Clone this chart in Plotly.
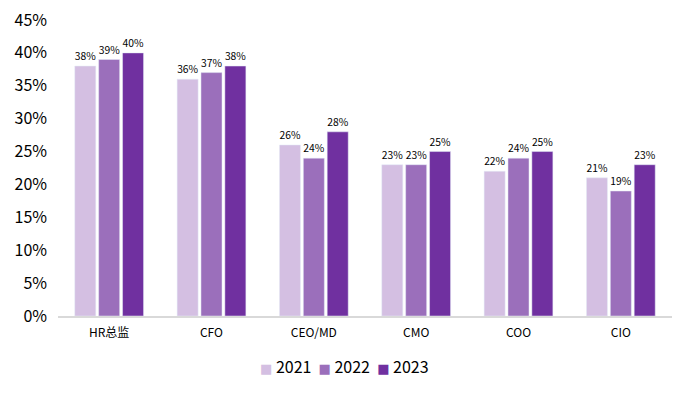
import plotly.graph_objects as go

categories = ["HR总监", "CFO", "CEO/MD", "CMO", "COO", "CIO"]
years = ["2021", "2022", "2023"]
v2021 = [38, 36, 26, 23, 22, 21]
v2022 = [39, 37, 24, 23, 24, 19]
v2023 = [40, 38, 28, 25, 25, 23]
colors = ["#D4BFE2", "#9B6FBB", "#7030A0"]
tick_vals = [0, 5, 10, 15, 20, 25, 30, 35, 40, 45]
tick_text = [f"{v}%" for v in tick_vals]

FONT = "Noto Sans CJK SC, Open Sans, sans-serif"

fig = go.Figure()
for name, vals, c in zip(years, [v2021, v2022, v2023], colors):
    fig.add_trace(go.Bar(
        x=categories, y=vals, name=name, marker_color=c,
        text=[f"{v}%" for v in vals], textposition="outside",
        textfont=dict(size=11, color="#000000", family=FONT),
        cliponaxis=False, showlegend=False,
    ))

legend_html = "&nbsp;&nbsp;".join(
    f"<span style='color:{c};font-family:DejaVu Sans;font-size:13px'>■</span> {y}"
    for y, c in zip(years, colors)
)
fig.add_annotation(
    text=legend_html, xref="paper", yref="paper", x=0.467, y=-0.168,
    xanchor="center", yanchor="middle", showarrow=False,
    font=dict(size=16, family=FONT, color="#000000"),
)

fig.update_layout(
    width=690, height=393,
    margin=dict(l=58, r=18, t=20, b=77),
    paper_bgcolor="white", plot_bgcolor="white",
    barmode="group", bargap=0.3, bargroupgap=0.12,
    font=dict(family=FONT, color="#000000"),
    showlegend=False,
    xaxis=dict(showline=True, linecolor="#D9D9D9", linewidth=1.5,
               ticks="outside", ticklen=5, tickcolor="rgba(0,0,0,0)",
               automargin=False,
               tickfont=dict(size=12, family=FONT), showgrid=False),
    yaxis=dict(range=[0, 45], tickvals=tick_vals, ticktext=tick_text, showgrid=False,
               zeroline=False, showline=False, ticks="", ticklabelstandoff=10,
               ticklabeloverflow="allow", automargin=False,
               tickfont=dict(size=16, family=FONT)),
)

fig.write_html("out.html", config={"displayModeBar": False},
               post_script="document.body.style.margin='0';")
